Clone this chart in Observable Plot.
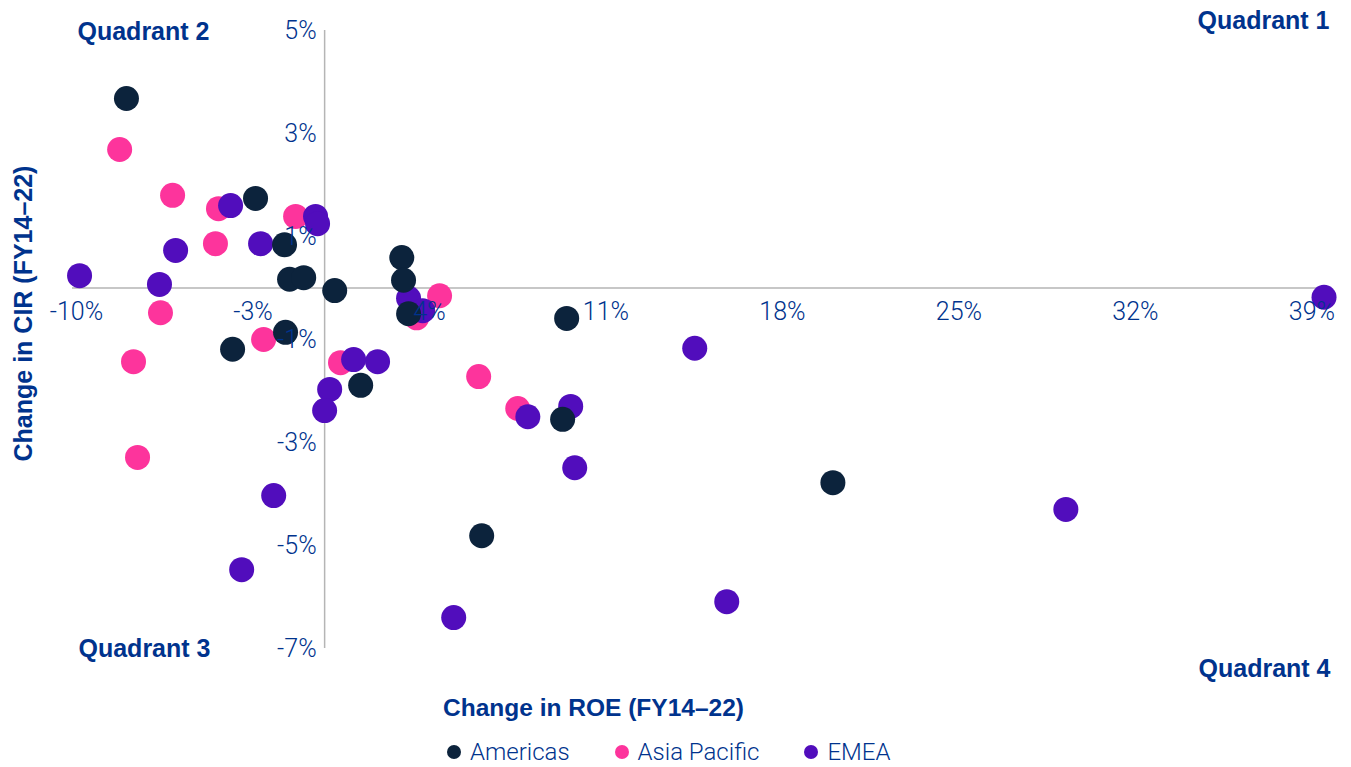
<!DOCTYPE html>
<html>
<head>
<meta charset="utf-8">
<script src="https://cdn.jsdelivr.net/npm/d3@7"></script>
<script src="https://cdn.jsdelivr.net/npm/@observablehq/plot@0.6"></script>
<style>
  html, body { margin: 0; padding: 0; background: #ffffff; overflow: hidden; }
  #chart { position: relative; }
  #legend {
    position: absolute; left: 447px; top: 740px; height: 24px;
    display: flex; align-items: center; gap: 45px;
    font-family: Roboto, "Liberation Sans", Arial, sans-serif; font-weight: 300;
    font-size: 24px; color: #00338D; line-height: 24px; white-space: nowrap;
  }
  #legend .item { display: flex; align-items: center; gap: 9px; }
  #legend .sw { width: 14px; height: 14px; border-radius: 50%; display: inline-block; }
</style>
</head>
<body>
<div id="chart"></div>
<div id="legend"></div>
<script>
// ---- Data (Change in ROE vs Change in CIR, FY14–22, in %) ----
const regions = ["Americas", "Asia Pacific", "EMEA"];
const regionColors = ["#0C233C", "#FD349C", "#510DBC"];

const americasROE = [-7.86, -2.74, -1.59, -1.39, -0.83, 0.40, 3.06, 3.13, 3.33, -1.55, -3.65, 1.43, 9.60, 9.44, 20.16, 6.23];
const americasCIR = [3.68, 1.74, 0.84, 0.17, 0.20, -0.05, 0.59, 0.15, -0.50, -0.86, -1.19, -1.89, -0.59, -2.55, -3.78, -4.81];

const asiaROE = [-8.13, -6.03, -4.21, -4.33, -1.15, -6.51, -7.58, -7.42, -2.42, 0.63, 4.56, 6.11, 7.66, 3.65];
const asiaCIR = [2.69, 1.80, 1.54, 0.86, 1.39, -0.48, -1.43, -3.29, -1.00, -1.45, -0.15, -1.72, -2.34, -0.58];

const emeaROE = [-9.72, -6.55, -5.91, -3.73, -2.54, -0.36, -0.28, 3.33, 3.89, 1.15, 2.10, 0.20, 0.00, 8.06, 9.76, 14.68, 9.92, -2.02, -3.29, 5.12, 15.95, 29.40, 39.64];
const emeaCIR = [0.24, 0.07, 0.73, 1.60, 0.86, 1.39, 1.25, -0.20, -0.44, -1.39, -1.43, -1.97, -2.38, -2.50, -2.30, -1.17, -3.49, -4.03, -5.47, -6.40, -6.09, -4.30, -0.18];

const xTicks = [-10, -3, 4, 11, 18, 25, 32, 39];
const yTicks = [5, 3, 1, -1, -3, -5, -7];
const xDomain = [-10, 39.5];
const yDomain = [-7, 5];
const xTitle = "Change in ROE (FY14\u201322)";
const yTitle = "Change in CIR (FY14\u201322)";
const quadrantLabels = ["Quadrant 1", "Quadrant 2", "Quadrant 3", "Quadrant 4"];

// ---- Build table (drawing order: Asia Pacific, EMEA, Americas on top) ----
const rows = [];
asiaROE.forEach((v, i) => rows.push({region: "Asia Pacific", roe: v, cir: asiaCIR[i]}));
emeaROE.forEach((v, i) => rows.push({region: "EMEA", roe: v, cir: emeaCIR[i]}));
americasROE.forEach((v, i) => rows.push({region: "Americas", roe: v, cir: americasCIR[i]}));

const blue = "#00338D";
const boldFont = "'Liberation Sans', Arial, sans-serif";
const lightFont = "Roboto, 'Liberation Sans', Arial, sans-serif";
const axisGray = "#b5b5b5";

const chart = Plot.plot({
  width: 1351,
  height: 730,
  marginLeft: 72,
  marginRight: 31,
  marginTop: 30,
  marginBottom: 82,
  x: {domain: xDomain, axis: null},
  y: {domain: yDomain, axis: null},
  color: {domain: regions, range: regionColors},
  style: {background: "#ffffff", overflow: "visible"},
  marks: [
    Plot.ruleY([0], {x1: xDomain[0], x2: xDomain[1], stroke: axisGray, strokeWidth: 1.5}),
    Plot.ruleX([0], {y1: yDomain[0], y2: yDomain[1], stroke: axisGray, strokeWidth: 1.5}),
    Plot.dot(rows, {x: "roe", y: "cir", fill: "region", r: 12.5, stroke: "none"}),
    Plot.text(xTicks, {x: d => d, y: 0, dy: 24, dx: 4, text: d => `${d}%`, fill: blue,
      fontSize: 25, fontWeight: 300, fontFamily: lightFont, lineAnchor: "middle"}),
    Plot.text(yTicks, {x: 0, y: d => d, dx: -8, textAnchor: "end", text: d => `${d}%`, fill: blue,
      fontSize: 25, fontWeight: 300, fontFamily: lightFont, lineAnchor: "middle"}),
    Plot.text([quadrantLabels[0]], {frameAnchor: "top-right", textAnchor: "end", lineAnchor: "middle",
      dx: 9, dy: -10, text: d => d, fill: blue, fontSize: 25, fontWeight: "bold", fontFamily: boldFont}),
    Plot.text([quadrantLabels[1]], {frameAnchor: "top-left", textAnchor: "start", lineAnchor: "middle",
      dx: 5, dy: 1, text: d => d, fill: blue, fontSize: 25, fontWeight: "bold", fontFamily: boldFont}),
    Plot.text([quadrantLabels[2]], {frameAnchor: "bottom-left", textAnchor: "start", lineAnchor: "middle",
      dx: 6, dy: 0, text: d => d, fill: blue, fontSize: 25, fontWeight: "bold", fontFamily: boldFont}),
    Plot.text([quadrantLabels[3]], {frameAnchor: "bottom-right", textAnchor: "end", lineAnchor: "middle",
      dx: 10, dy: 20, text: d => d, fill: blue, fontSize: 25, fontWeight: "bold", fontFamily: boldFont}),
    Plot.text([xTitle], {frameAnchor: "bottom", textAnchor: "middle", lineAnchor: "middle",
      dx: -103, dy: 60, text: d => d, fill: blue, fontSize: 24.5, fontWeight: "bold", fontFamily: boldFont}),
    Plot.text([yTitle], {frameAnchor: "left", textAnchor: "middle", lineAnchor: "middle", rotate: -90,
      dx: -49, dy: -26, text: d => d, fill: blue, fontSize: 25, fontWeight: "bold", fontFamily: boldFont})
  ]
});
document.getElementById("chart").appendChild(chart);

// ---- Legend ----
const legend = document.getElementById("legend");
regions.forEach((name, i) => {
  const item = document.createElement("span");
  item.className = "item";
  const sw = document.createElement("span");
  sw.className = "sw";
  sw.style.background = regionColors[i];
  const label = document.createElement("span");
  label.textContent = name;
  item.appendChild(sw);
  item.appendChild(label);
  legend.appendChild(item);
});
</script>
</body>
</html>
